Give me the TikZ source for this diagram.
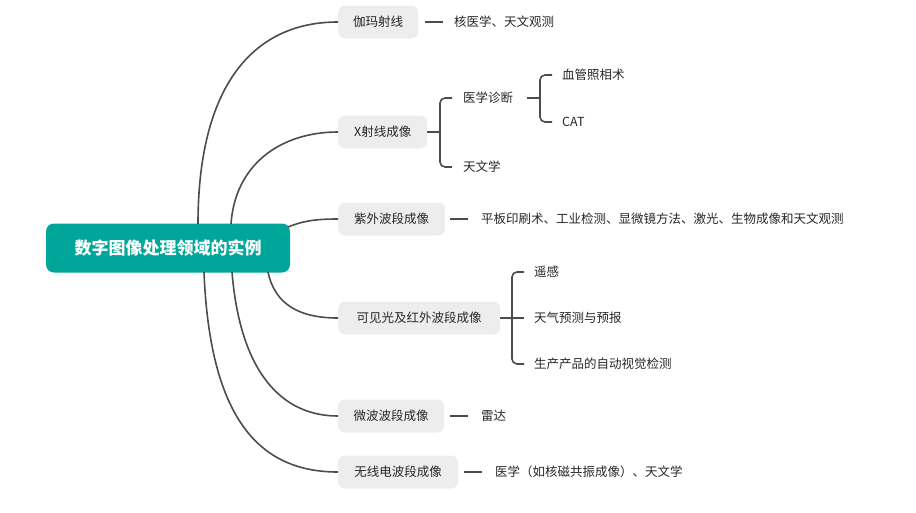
\documentclass[tikz,border=0pt]{standalone}
\usepackage{fontspec}
\setmainfont{Noto Sans CJK SC}
\begin{document}
\begin{tikzpicture}[x=1pt,y=-1pt,
  ln/.style={draw=black!70,line width=1.6pt},
  box/.style={fill=black!7,rounded corners=7pt,minimum height=33pt,inner xsep=0pt,font=\fontsize{12.5}{14}\selectfont,text=black!85,anchor=west},
  leaf/.style={font=\fontsize{12.5}{14}\selectfont,text=black!85,anchor=west,inner sep=1pt}]
\useasboundingbox (0,0) rectangle (916,512);
\node[fill={rgb,255:red,0;green,166;blue,153},rounded corners=8pt,minimum width=244pt,minimum height=49pt,text=white,font=\fontsize{17}{19}\selectfont\bfseries] (root) at (168,248) {数字图像处理领域的实例};
\node[box,minimum width=80pt] (g) at (338,22) {伽玛射线};
\node[box,minimum width=89pt] (x) at (338,132) {X射线成像};
\node[box,minimum width=107pt] (u) at (338,219) {紫外波段成像};
\node[box,minimum width=162pt] (v) at (338,318) {可见光及红外波段成像};
\node[box,minimum width=106pt] (m) at (338,416) {微波波段成像};
\node[box,minimum width=120pt] (r) at (338,472) {无线电波段成像};
% curves
\draw[ln] (198,224) .. controls (198,90) and (250,22) .. (g.west);
\draw[ln] (231,224) .. controls (235,165) and (280,132) .. (x.west);
\draw[ln] (288,227) .. controls (305,220) and (320,219) .. (u.west);
\draw[ln] (268,272) .. controls (275,305) and (300,318) .. (v.west);
\draw[ln] (232,272) .. controls (240,370) and (280,416) .. (m.west);
\draw[ln] (204,272) .. controls (210,420) and (260,472) .. (r.west);
% leaves
\node[leaf] (g1) at (453,22) {核医学、天文观测};
\draw[ln] (g.east) ++(7,0) -- ++(18,0);
\node[leaf] (u1) at (480,219) {平板印刷术、工业检测、显微镜方法、激光、生物成像和天文观测};
\draw[ln] (u.east) ++(5,0) -- ++(18,0);
\node[leaf] (m1) at (480,416) {雷达};
\draw[ln] (m.east) ++(6,0) -- ++(18,0);
\node[leaf] (r1) at (494,472) {医学（如核磁共振成像）、天文学};
\draw[ln] (r.east) ++(6,0) -- ++(18,0);
% X ray bracket
\node[leaf] (x1) at (462,98) {医学诊断};
\node[leaf] (x2) at (462,167) {天文学};
\draw[ln] (x.east) -- (440,132);
\draw[ln,rounded corners=5pt] (452,98) -- (440,98) -- (440,167) -- (452,167);
\node[leaf] (x11) at (561,75) {血管照相术};
\node[leaf] (x12) at (561,122) {CAT};
\draw[ln] (527,98) -- (540,98);
\draw[ln,rounded corners=5pt] (552,75) -- (540,75) -- (540,122) -- (552,122);
% visible bracket
\node[leaf] (v1) at (533,272) {遥感};
\node[leaf] (v2) at (533,318) {天气预测与预报};
\node[leaf] (v3) at (533,364) {生产产品的自动视觉检测};
\draw[ln] (v.east) -- (512,318);
\draw[ln,rounded corners=5pt] (524,272) -- (512,272) -- (512,364) -- (524,364);
\draw[ln] (512,318) -- (524,318);
\end{tikzpicture}
\end{document}
